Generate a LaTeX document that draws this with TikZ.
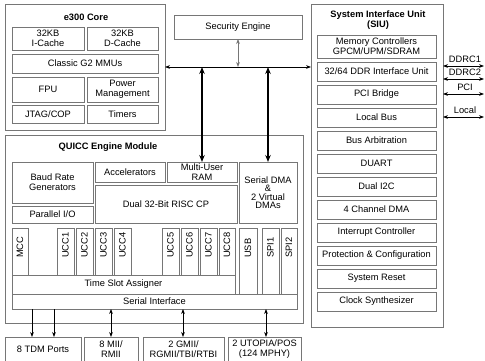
\documentclass[tikz,border=0pt]{standalone}
\usepackage{fontspec}
\setmainfont{Liberation Sans}
\usetikzlibrary{arrows.meta}
\definecolor{boxgray}{RGB}{118,118,118}
\newcommand{\bx}[7][]{\node[blk,#1,minimum width={(#5-#3)*1pt},minimum height={(#6-#4)*1pt}] (#2) at ({(#3+#5)/2},{(#4+#6)/2}) {#7};}
\begin{document}
\begin{tikzpicture}[x=1pt,y=-1pt,
  every node/.style={font=\fontsize{9.3}{10}\selectfont},
  blk/.style={draw=boxgray,line width=0.9pt,inner sep=0pt,outer sep=0pt,align=center},
  ttl/.style={font=\fontsize{9.3}{10}\selectfont\bfseries,align=center,inner sep=0pt},
  vtxt/.style={rotate=90,anchor=west,inner sep=0pt},
  lbl/.style={inner sep=0pt},
  bus/.style={line width=0.8pt,{Stealth[length=5pt,width=3.8pt]}-{Stealth[length=5pt,width=3.8pt]}},
  gbus/.style={bus,draw=boxgray},
  thick bus/.style={line width=2pt,{Stealth[length=7pt,width=5.5pt]}-{Stealth[length=7pt,width=5.5pt]}},
  down/.style={line width=0.8pt,-{Stealth[length=5pt,width=3.8pt]}}]
\clip (0,0) rectangle (485,361);
\fill[white] (0,0) rectangle (485,361);
% e300 core
\bx{core}{5}{4}{165}{130}{}
\node[ttl] (coret) at (86,17) {e300 Core};
\bx{icache}{12}{27}{84}{50}{32KB\\I-Cache}
\bx{dcache}{87}{27}{158}{50}{32KB\\D-Cache}
\bx{mmu}{12}{54}{158}{73}{Classic G2 MMUs}
\bx{fpu}{12}{77}{84}{102}{FPU}
\bx{pwr}{87}{77}{158}{102}{Power\\Management}
\bx{jtag}{12}{105}{84}{123}{JTAG/COP}
\bx{timers}{87}{105}{158}{123}{Timers}
% security
\bx{sec}{174}{15}{302}{39}{Security Engine}
% SIU
\bx{siu}{311}{4}{443}{327}{}
\node[ttl] (siut) at (378,20) {System Interface Unit\\(SIU)};
\bx{memc}{317}{35}{436}{58}{Memory Controllers\\GPCM/UPM/SDRAM}
\bx{ddr}{317}{62}{436}{81}{32/64 DDR Interface Unit}
\bx{pcib}{317}{85}{436}{104}{PCI Bridge}
\bx{lbus}{317}{108}{436}{127}{Local Bus}
\bx{arb}{317}{131}{436}{150}{Bus Arbitration}
\bx{duart}{317}{154}{436}{173}{DUART}
\bx{i2c}{317}{177}{436}{196}{Dual I2C}
\bx{dma}{317}{200}{436}{219}{4 Channel DMA}
\bx{pic}{317}{223}{436}{242}{Interrupt Controller}
\bx{prot}{317}{246}{436}{265}{Protection \& Configuration}
\bx{reset}{317}{269}{436}{288}{System Reset}
\bx{clk}{317}{292}{436}{311}{Clock Synthesizer}
% QUICC
\bx{quicc}{5}{135}{303}{323}{}
\node[ttl] (quicct) at (108,147) {QUICC Engine Module};
\bx{baud}{12}{162}{93}{203}{Baud Rate\\Generators}
\bx{pio}{12}{206}{93}{223}{Parallel I/O}
\bx{accel}{95}{162}{165}{182}{Accelerators}
\bx{muram}{167}{162}{237}{182}{Multi-User\\RAM}
\bx{risc}{95}{185}{237}{223}{Dual 32-Bit RISC CP}
\bx[font=\fontsize{9.3}{8.5}\selectfont]{sdma}{239}{162}{297}{223}{Serial DMA\\\&\\2 Virtual\\DMAs}
\bx{mcc}{12}{228}{28}{275}{}
\bx{ucc1}{57}{228}{74}{275}{}
\bx{ucc2}{76}{228}{93}{275}{}
\bx{ucc3}{95}{228}{112}{275}{}
\bx{ucc4}{114}{228}{131}{275}{}
\bx{ucc5}{162}{228}{179}{275}{}
\bx{ucc6}{181}{228}{198}{275}{}
\bx{ucc7}{200}{228}{217}{275}{}
\bx{ucc8}{219}{228}{235}{275}{}
\bx{usb}{239}{228}{257}{294}{}
\bx{spi1}{262}{228}{279}{294}{}
\bx{spi2}{281}{228}{297}{294}{}
\node[vtxt] (mcct) at (mcc.center |- 0,258) {MCC};
\node[vtxt] (ucc1t) at (ucc1.center |- 0,258) {UCC1};
\node[vtxt] (ucc2t) at (ucc2.center |- 0,258) {UCC2};
\node[vtxt] (ucc3t) at (ucc3.center |- 0,258) {UCC3};
\node[vtxt] (ucc4t) at (ucc4.center |- 0,258) {UCC4};
\node[vtxt] (ucc5t) at (ucc5.center |- 0,258) {UCC5};
\node[vtxt] (ucc6t) at (ucc6.center |- 0,258) {UCC6};
\node[vtxt] (ucc7t) at (ucc7.center |- 0,258) {UCC7};
\node[vtxt] (ucc8t) at (ucc8.center |- 0,258) {UCC8};
\node[vtxt] (usbt) at (usb.center |- 0,258) {USB};
\node[vtxt] (spi1t) at (spi1.center |- 0,258) {SPI1};
\node[vtxt] (spi2t) at (spi2.center |- 0,258) {SPI2};
\bx{tsa}{12}{275}{235}{294}{Time Slot Assigner}
\bx{si}{12}{294}{297}{309}{Serial Interface}
% bottom interfaces
\bx{tdm}{5}{337}{81}{362}{8 TDM Ports}
\bx{mii}{84}{337}{138}{362}{8 MII/\\RMII}
\bx{gmii}{143}{337}{224}{362}{2 GMII/\\RGMII/TBI/RTBI}
\bx{utopia}{228}{337}{301}{362}{2 UTOPIA/POS\\(124 MPHY)}
% connectors
\draw[bus] (core.east) -- (core.east -| siu.west);
\draw[gbus] (sec.south) -- (sec.south |- core.east);
\draw[thick bus] (muram.north |- core.east) -- (muram.north);
\draw[thick bus] (sdma.north |- core.east) -- (sdma.north);
\coordinate (t1) at (32,309);
\coordinate (t2) at (54,309);
\coordinate (m1) at (111,309);
\coordinate (g1) at (183,309);
\coordinate (u1) at (266,309);
\draw[down] (t1) -- (t1 |- tdm.north);
\draw[down] (t2) -- (t2 |- tdm.north);
\draw[bus] (m1) -- (m1 |- mii.north);
\draw[bus] (g1) -- (g1 |- gmii.north);
\draw[bus] (u1) -- (u1 |- utopia.north);
% external SIU ports
\coordinate (d1) at (484,66);
\coordinate (d2) at (484,79);
\coordinate (p1) at (484,94);
\coordinate (l1) at (484,117);
\draw[bus] (d1 -| siu.east) -- (d1);
\draw[bus] (d2 -| siu.east) -- (d2);
\draw[bus] (p1 -| siu.east) -- (p1);
\draw[bus] (l1 -| siu.east) -- (l1);
\node[lbl] (d1t) at (465,59) {DDRC1};
\node[lbl] (d2t) at (465,72) {DDRC2};
\node[lbl] (p1t) at (465,87) {PCI};
\node[lbl] (l1t) at (465,110) {Local};
\end{tikzpicture}
\end{document}
